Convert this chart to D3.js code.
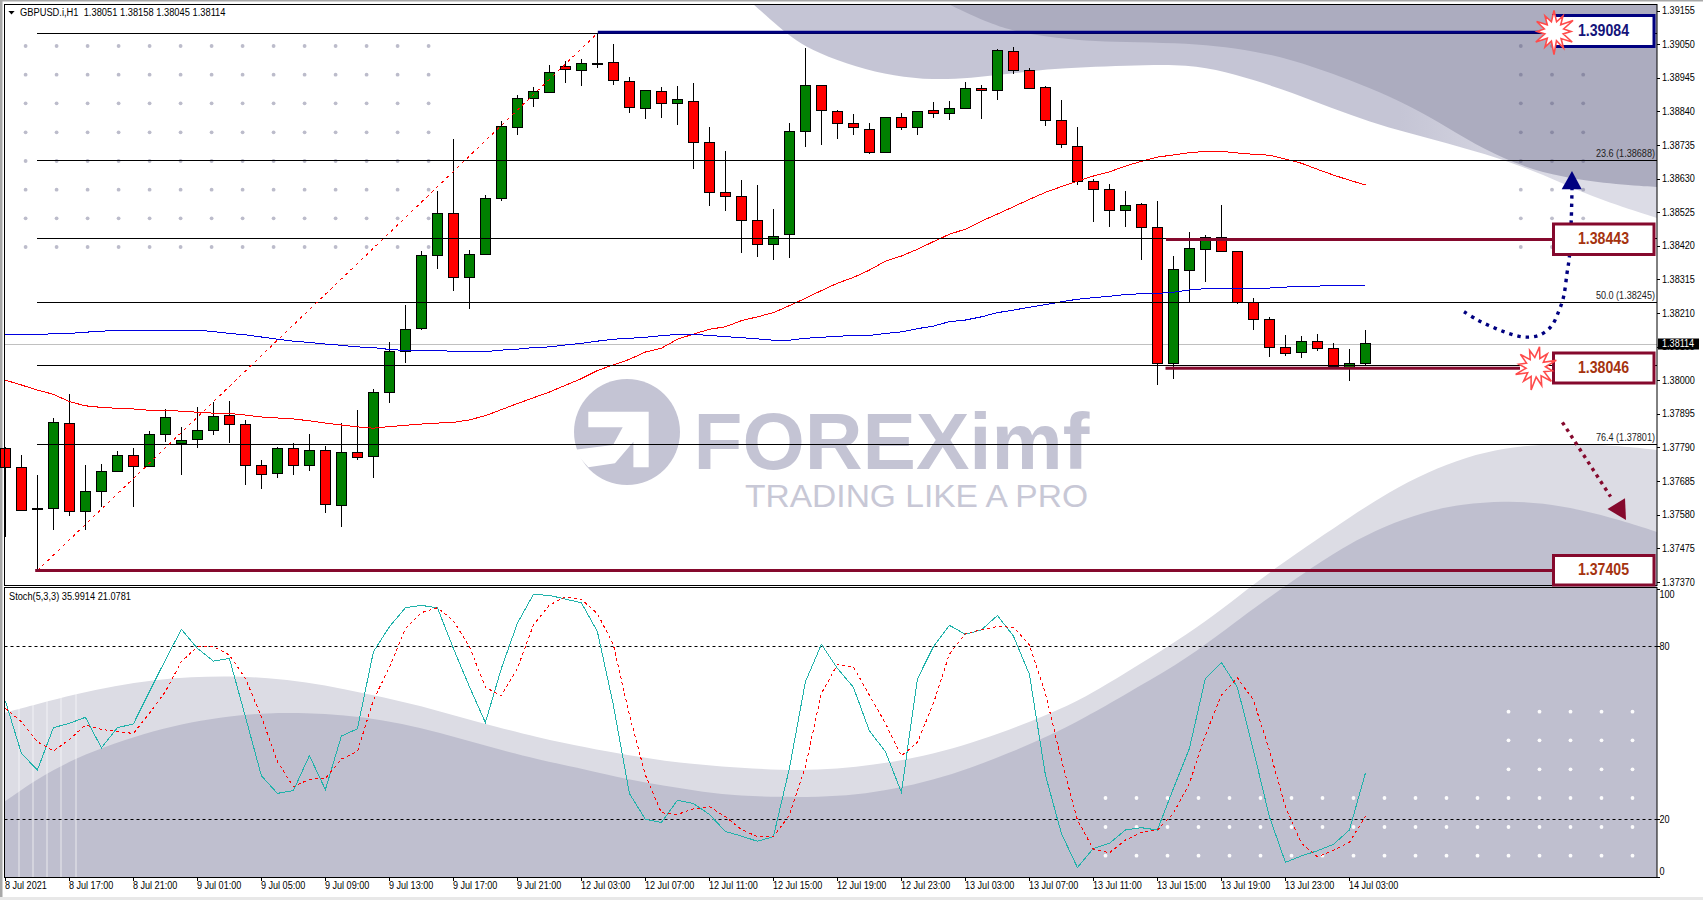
<!DOCTYPE html>
<html><head><meta charset="utf-8">
<script src="https://cdn.jsdelivr.net/npm/d3@7/dist/d3.min.js"></script>
<style>html,body{margin:0;padding:0;background:#fff;overflow:hidden}svg{display:block}text{font-family:"Liberation Sans",Arial,sans-serif}</style>
</head><body><svg id="c" width="1703" height="900"></svg>
<script>
const open=[1.37787,1.37728,1.37600,1.37598,1.37865,1.37589,1.37652,1.37714,1.37765,1.37730,
1.37830,1.37803,1.37814,1.37842,1.37890,1.37862,1.37734,1.37708,1.37787,1.37733,
1.37781,1.37608,1.37774,1.37761,1.37961,1.38089,1.38161,1.38389,1.38521,1.38321,
1.38392,1.38567,1.38789,1.38880,1.38900,1.38981,1.38967,1.38990,1.38993,1.38934,
1.38850,1.38903,1.38864,1.38871,1.38743,1.38587,1.38575,1.38500,1.38423,1.38455,
1.38776,1.38921,1.38840,1.38803,1.38784,1.38711,1.38821,1.38789,1.38843,1.38833,
1.38848,1.38912,1.38905,1.39028,1.38968,1.38915,1.38812,1.38731,1.38621,1.38596,
1.38530,1.38550,1.38478,1.38053,1.38342,1.38408,1.38446,1.38403,1.38243,1.38190,
1.38103,1.38086,1.38121,1.38100,1.38038,1.38051];
const high=[1.37792,1.37766,1.37704,1.37882,1.37956,1.37735,1.37738,1.37779,1.37787,1.37840,
1.37910,1.37854,1.37916,1.37933,1.37935,1.37875,1.37750,1.37791,1.37803,1.37832,
1.37794,1.37866,1.37907,1.37971,1.38119,1.38235,1.38403,1.38591,1.38753,1.38406,
1.38578,1.38809,1.38891,1.38915,1.38984,1.38996,1.39004,1.39084,1.39050,1.38946,
1.38906,1.38915,1.38919,1.38928,1.38791,1.38716,1.38626,1.38609,1.38534,1.38803,
1.39038,1.38921,1.38844,1.38831,1.38803,1.38821,1.38835,1.38840,1.38868,1.38872,
1.38931,1.38922,1.39034,1.39041,1.38975,1.38918,1.38875,1.38791,1.38629,1.38613,
1.38591,1.38554,1.38560,1.38387,1.38462,1.38453,1.38547,1.38403,1.38256,1.38196,
1.38141,1.38137,1.38144,1.38115,1.38097,1.38158];
const low=[1.37511,1.37590,1.37405,1.37532,1.37575,1.37532,1.37604,1.37714,1.37604,1.37730,
1.37807,1.37704,1.37788,1.37829,1.37803,1.37672,1.37660,1.37695,1.37704,1.37716,
1.37585,1.37541,1.37750,1.37694,1.37929,1.38054,1.38157,1.38348,1.38279,1.38223,
1.38392,1.38561,1.38766,1.38855,1.38900,1.38930,1.38919,1.38975,1.38923,1.38836,
1.38817,1.38820,1.38798,1.38661,1.38544,1.38529,1.38398,1.38386,1.38376,1.38383,
1.38730,1.38736,1.38755,1.38766,1.38708,1.38711,1.38783,1.38766,1.38820,1.38813,
1.38848,1.38816,1.38875,1.38957,1.38910,1.38794,1.38725,1.38610,1.38494,1.38479,
1.38479,1.38376,1.37986,1.38004,1.38240,1.38308,1.38401,1.38239,1.38157,1.38072,
1.38076,1.38069,1.38092,1.38038,1.37998,1.38045];
const close=[1.37726,1.37592,1.37596,1.37868,1.37589,1.37653,1.37715,1.37765,1.37730,1.37831,
1.37884,1.37812,1.37843,1.37887,1.37861,1.37733,1.37705,1.37787,1.37733,1.37781,
1.37611,1.37774,1.37758,1.37962,1.38090,1.38159,1.38390,1.38521,1.38321,1.38393,
1.38568,1.38793,1.38881,1.38903,1.38962,1.38971,1.38990,1.38990,1.38937,1.38851,
1.38906,1.38865,1.38878,1.38742,1.38586,1.38573,1.38498,1.38423,1.38450,1.38778,
1.38921,1.38842,1.38801,1.38789,1.38711,1.38821,1.38789,1.38840,1.38833,1.38850,
1.38912,1.38905,1.39031,1.38967,1.38913,1.38811,1.38736,1.38620,1.38595,1.38530,
1.38546,1.38476,1.38053,1.38346,1.38412,1.38446,1.38401,1.38243,1.38189,1.38101,
1.38083,1.38121,1.38098,1.38042,1.38053,1.38114];
const maRed=[1.38000,1.37985,1.37969,1.37956,1.37933,1.37920,1.37915,1.37912,1.37910,1.37906,
1.37906,1.37903,1.37900,1.37897,1.37896,1.37891,1.37885,1.37882,1.37879,1.37873,
1.37866,1.37860,1.37854,1.37850,1.37855,1.37859,1.37863,1.37866,1.37868,1.37876,
1.37889,1.37908,1.37927,1.37945,1.37963,1.37984,1.38005,1.38030,1.38048,1.38065,
1.38088,1.38100,1.38128,1.38144,1.38159,1.38167,1.38186,1.38198,1.38211,1.38233,
1.38256,1.38280,1.38303,1.38321,1.38344,1.38372,1.38388,1.38409,1.38433,1.38456,
1.38472,1.38497,1.38519,1.38542,1.38565,1.38587,1.38605,1.38622,1.38638,1.38651,
1.38669,1.38684,1.38697,1.38704,1.38711,1.38715,1.38715,1.38710,1.38706,1.38703,
1.38691,1.38678,1.38659,1.38641,1.38625,1.38610];
const maBlue=[1.38143,1.38143,1.38143,1.38145,1.38146,1.38150,1.38153,1.38156,1.38156,1.38156,
1.38156,1.38156,1.38156,1.38152,1.38146,1.38142,1.38135,1.38128,1.38122,1.38118,
1.38113,1.38109,1.38104,1.38102,1.38096,1.38093,1.38093,1.38093,1.38090,1.38089,
1.38089,1.38094,1.38097,1.38102,1.38104,1.38110,1.38115,1.38122,1.38128,1.38131,
1.38134,1.38139,1.38143,1.38143,1.38140,1.38136,1.38133,1.38129,1.38125,1.38125,
1.38131,1.38134,1.38137,1.38140,1.38140,1.38146,1.38151,1.38161,1.38169,1.38183,
1.38188,1.38198,1.38211,1.38219,1.38228,1.38236,1.38245,1.38253,1.38258,1.38262,
1.38268,1.38270,1.38271,1.38275,1.38282,1.38286,1.38286,1.38287,1.38287,1.38288,
1.38291,1.38293,1.38294,1.38296,1.38296,1.38296];
const stochMain=[61.0,42.9,37.1,51.8,53.3,55.4,44.8,51.8,53.1,64.3,
75.3,85.9,79.3,74.9,75.8,55.6,35.1,29.0,30.0,42.1,
30.3,48.9,51.4,78.1,86.8,93.4,94.2,93.4,79.3,66.0,
53.6,72.4,88.0,98.0,97.7,96.4,95.1,85.1,59.6,29.0,
20.0,18.9,26.6,25.5,21.7,15.8,14.2,12.4,14.0,37.7,
67.7,80.7,72.4,65.8,50.7,43.5,29.4,68.7,79.9,87.3,
84.2,85.7,90.7,83.6,70.3,35.4,15.1,3.3,9.9,11.7,
16.3,17.1,16.3,30.7,44.6,68.9,74.4,65.8,44.0,20.9,
5.1,7.3,9.1,11.3,16.3,35.99];
const stochSignal=[58.5,53.9,46.9,43.7,47.7,52.7,51.2,50.4,49.8,56.8,
64.3,74.7,79.9,79.9,77.0,68.9,55.6,40.0,31.3,33.9,
34.2,40.9,43.5,61.4,72.7,86.2,91.7,93.4,88.9,79.9,
65.8,62.9,72.4,87.4,94.3,97.2,96.3,91.4,80.5,56.2,
35.4,22.3,21.7,23.6,24.4,20.9,16.5,14.0,13.9,21.5,
38.3,63.7,73.7,72.9,63.1,53.3,42.0,46.7,60.2,77.3,
84.5,85.7,86.9,86.6,80.5,63.7,40.6,19.8,9.6,8.4,
12.8,15.5,16.3,22.1,32.5,49.2,63.1,69.1,61.4,44.0,
24.4,11.7,7.0,9.3,12.0,21.08];
const timeLabels=["8 Jul 2021","8 Jul 17:00","8 Jul 21:00","9 Jul 01:00","9 Jul 05:00","9 Jul 09:00","9 Jul 13:00","9 Jul 17:00","9 Jul 21:00","12 Jul 03:00","12 Jul 07:00","12 Jul 11:00","12 Jul 15:00","12 Jul 19:00","12 Jul 23:00","13 Jul 03:00","13 Jul 07:00","13 Jul 11:00","13 Jul 15:00","13 Jul 19:00","13 Jul 23:00","14 Jul 03:00"];
const priceTicks=[1.39155,1.39050,1.38945,1.38840,1.38735,1.38630,1.38525,1.38420,1.38315,1.38210,1.38105,1.38000,1.37895,1.37790,1.37685,1.37580,1.37475,1.37370];
const stochTicks=[100,80,20,0];
const stochLevels=[80,20];
const fibPrices=[1.39084,1.38688,1.38443,1.38245,1.38046,1.37801,1.37405];
const fibLabels=[[1.38688,"23.6 (1.38688)"],[1.38245,"50.0 (1.38245)"],[1.37801,"76.4 (1.37801)"]];
const levelLabels=["1.39084","1.38443","1.38046","1.37405"];
const levelLinePrices=[1.39087,1.38440,1.38037,1.37405];
const bidPrice=1.38114;
// watermark artwork, traced in page space
const waveTopLight=[[753,4],[780,28],[795,40],[818,53],[856,67],[894,76],[933,80],[971,78],[1009,74],[1047,69],[1086,67],[1124,66],[1177,64],[1216,69],[1254,80],[1293,93],[1331,108],[1370,122],[1408,133],[1447,143],[1485,154],[1524,167],[1562,183],[1601,200],[1657,218]];
const waveTopDark=[[948,4],[971,15],[990,23],[1009,30],[1047,37],[1086,41],[1124,42],[1177,43],[1216,46],[1254,51],[1293,60],[1331,73],[1370,88],[1408,105],[1447,127],[1485,150],[1524,167],[1562,177],[1601,183],[1657,187]];
const waveLowLight=[[4,713],[38,704],[76,694],[115,686],[153,680],[191,677],[230,676],[268,678],[306,682],[344,689],[383,697],[421,706],[459,717],[497,727],[536,737],[588,748],[626,755],[665,761],[703,765],[741,768],[780,770],[818,770],[856,767],[894,762],[933,754],[971,743],[1009,730],[1047,715],[1086,697],[1124,674],[1177,641],[1216,614],[1246,590],[1277,567],[1316,540],[1350,517],[1389,492],[1428,472],[1466,457],[1505,448],[1543,444],[1582,444],[1620,446],[1657,450]];
const waveLowDark=[[4,802],[38,778],[76,758],[115,743],[153,731],[191,722],[230,716],[268,713],[306,713],[344,715],[383,720],[421,728],[459,738],[497,749],[536,759],[588,770],[626,779],[665,786],[703,792],[741,796],[780,797],[818,797],[856,795],[894,789],[933,780],[971,768],[1009,753],[1047,737],[1086,717],[1124,695],[1177,665],[1216,637],[1254,608],[1308,570],[1347,545],[1385,526],[1424,512],[1462,504],[1505,501],[1543,503],[1582,510],[1620,520],[1657,532]];
const logoCut=[[588.3,411.7],[648.7,411.7],[648.7,467.3],[633.4,467.3],[633.4,441.7],[615,463.3],[588.3,467.3],[573,450],[613,445],[622.7,427.3],[588.3,427.3]];
const streaks=[[19,708],[33,703],[47,697],[61,692],[76,688]];
const blueArrowPath=[[1464,311.7],[1477.6,320],[1493,327.3],[1508.5,333.3],[1524,337],[1539,335.3],[1551,326.7],[1558.6,311.7],[1563.6,296.7],[1567,273.3],[1569.4,256.7],[1571.3,218.3],[1572,189]];
const blueArrowHead=[[1572,171],[1561.7,189.3],[1581.7,189.3]];
const redArrowPath=[[1562.4,422.3],[1610.6,496.7]];
const redArrowHead=[[1626,520],[1625,498.3],[1607.5,509]];
const burstRadii=[21,10,18,9.5,22,10,17,9.5,21,10,19,9.5,23,10,18,9.5,21,9.5,17,10,20,9.5,18,10];

const NAVY="#000080",MAROON="#85092d",GREEN="#008000",RED="#ff0000",TEXTS=0.91;
const L=4.5,R=1657,T=4.5,B=585.5,ST=587.5,SB=877.5;
const svg=d3.select("#c");
const x=d3.scaleLinear().domain([0,85]).range([5.4,1365.4]);
const y=d3.scaleLinear().domain([1.39084,1.37405]).range([33.3,570.6]);
const ys=d3.scaleLinear().domain([0,100]).range([877,588.7]);
const page=d3.line().curve(d3.curveBasis);
const straight=d3.line();

const defs=svg.append("defs");
defs.append("clipPath").attr("id","cl").append("rect").attr("x",L).attr("y",T).attr("width",R-L).attr("height",SB-T);
const g=defs.append("linearGradient").attr("id","tl").attr("gradientUnits","userSpaceOnUse").attr("x1",1400).attr("x2",1560).attr("y1",0).attr("y2",0);
g.append("stop").attr("offset",0).attr("stop-color","#c5c5d5");
g.append("stop").attr("offset",1).attr("stop-color","#dcdce6");

// window chrome
svg.append("rect").attr("width",1703).attr("height",900).attr("fill","#fff");
svg.append("rect").attr("width",1703).attr("height",1.5).attr("fill","#a8a8a8");
svg.append("rect").attr("width",2.5).attr("height",900).attr("fill","#a8a8a8");
svg.append("rect").attr("y",897).attr("width",1703).attr("height",3).attr("fill","#e8e8e8");

// watermark
const bg=svg.append("g").attr("clip-path","url(#cl)");
const closeTop=p=>page(p)+`L${R},${T}Z`;
const closeLow=p=>page(p)+`L${R},${SB}L${L},${SB}Z`;
bg.append("path").attr("d",closeTop(waveTopLight)).attr("fill","url(#tl)");
bg.append("path").attr("d",closeTop(waveTopDark)).attr("fill","#acacbf");
bg.append("path").attr("d",closeLow(waveLowLight)).attr("fill","#dcdce4");
bg.append("path").attr("d",closeLow(waveLowDark)).attr("fill","#bfbfcf");
bg.selectAll("line.s").data(streaks).join("line").attr("x1",d=>d[0]).attr("x2",d=>d[0]).attr("y1",d=>d[1]).attr("y2",SB).attr("stroke","#fff").attr("stroke-opacity",.5).attr("stroke-width",1.3);
const dotRows=[46,74.7,103.3,132.3,161,189.7,218.3,247];
bg.selectAll("circle.a").data(d3.cross(d3.range(14),dotRows)).join("circle").attr("cx",d=>25.6+31*d[0]).attr("cy",d=>d[1]).attr("r",1.9).attr("fill","#bcbccb");
bg.selectAll("circle.b").data(d3.cross(d3.range(3),dotRows)).join("circle").attr("cx",d=>1520.8+31.2*d[0]).attr("cy",d=>d[1]).attr("r",1.9).attr("fill","#55557a").attr("fill-opacity",.38);
const lowRows=[711.7,740.3,769.3,798,827,855.7];
bg.selectAll("circle.c").data(d3.cross(d3.range(18),lowRows).filter(d=>d[1]>790||d[0]>=13)).join("circle").attr("cx",d=>1105.5+31*d[0]).attr("cy",d=>d[1]).attr("r",1.9).attr("fill","#fff").attr("fill-opacity",.95);
// logo
svg.append("circle").attr("cx",627).attr("cy",432).attr("r",53).attr("fill","#c4c4d4");
svg.append("path").attr("d",straight(logoCut)+"Z").attr("fill","#fff");
svg.append("text").text("FOREXimf").attr("x",693.5).attr("y",468.5).attr("font-size",80).attr("font-weight",700).attr("fill","#c4c4d4").attr("textLength",396).attr("lengthAdjust","spacingAndGlyphs");
svg.append("text").text("TRADING LIKE A PRO").attr("x",745).attr("y",506.5).attr("font-size",32).attr("fill","#c8c8d6").attr("textLength",343).attr("lengthAdjust","spacingAndGlyphs");

// bid line
svg.append("line").attr("x1",L).attr("x2",R).attr("y1",Math.round(y(bidPrice))+.5).attr("y2",Math.round(y(bidPrice))+.5).attr("stroke","#c0c0c0");
// stochastic levels
svg.selectAll("line.lv").data(stochLevels).join("line").attr("x1",L).attr("x2",R).attr("y1",d=>Math.round(ys(d))+.5).attr("y2",d=>Math.round(ys(d))+.5).attr("stroke","#000").attr("stroke-dasharray","3,3");

// candles
const idx=d3.range(open.length);
const bw=10;
const candles=svg.append("g").attr("shape-rendering","crispEdges");
candles.selectAll("line").data(idx).join("line").attr("x1",i=>Math.round(x(i))+.5).attr("x2",i=>Math.round(x(i))+.5).attr("y1",i=>y(high[i])).attr("y2",i=>y(low[i])).attr("stroke","#000");
candles.selectAll("rect").data(idx).join("rect").attr("x",i=>Math.round(x(i))-bw/2+.5).attr("width",bw)
 .attr("y",i=>y(Math.max(open[i],close[i]))).attr("height",i=>Math.max(1,Math.abs(y(open[i])-y(close[i]))))
 .attr("fill",i=>close[i]>=open[i]?GREEN:RED).attr("stroke","#000");

// moving averages
const lineOf=(sc)=>d3.line().x((d,i)=>x(i)).y(d=>sc(d));
svg.append("path").attr("d",lineOf(y)(maRed)).attr("fill","none").attr("stroke","#ff0000").attr("shape-rendering","crispEdges");
svg.append("path").attr("d",lineOf(y)(maBlue)).attr("fill","none").attr("stroke","#0000e0").attr("shape-rendering","crispEdges");

// fibonacci
svg.selectAll("line.fib").data(fibPrices).join("line").attr("x1",37).attr("x2",(d,i)=>i==fibPrices.length-1?37:R).attr("y1",d=>Math.round(y(d))+.5).attr("y2",d=>Math.round(y(d))+.5).attr("stroke","#000").attr("stroke-width",1);
svg.append("line").attr("x1",x(2)).attr("y1",y(1.37405)).attr("x2",x(37)).attr("y2",y(1.39084)).attr("stroke","#ff0000").attr("stroke-dasharray","3,4").attr("shape-rendering","crispEdges");
svg.selectAll("text.fib").data(fibLabels).join("text").attr("class","fib").attr("text-anchor","end").attr("font-size",10).attr("fill","#222")
 .attr("transform",d=>`translate(${R-2},${y(d[0])-3}) scale(${TEXTS},1)`).text(d=>d[1]);

// level lines
const lv=[[597.8,1552],[1166,1552],[1165.5,1520],[35.2,1552]];
svg.selectAll("line.lvl").data(levelLinePrices).join("line").attr("x1",(d,i)=>lv[i][0]).attr("x2",(d,i)=>lv[i][1]).attr("y1",d=>y(d)).attr("y2",d=>y(d)).attr("stroke",(d,i)=>i==0?NAVY:MAROON).attr("stroke-width",3);

// stochastic
svg.append("path").attr("d",lineOf(ys)(stochMain)).attr("fill","none").attr("stroke","#20b2aa").attr("shape-rendering","crispEdges");
svg.append("path").attr("d",lineOf(ys)(stochSignal)).attr("fill","none").attr("stroke","#ff0000").attr("stroke-dasharray","3,3").attr("shape-rendering","crispEdges");

// frames
svg.append("rect").attr("x",L).attr("y",T).attr("width",R-L).attr("height",B-T).attr("fill","none").attr("stroke","#000");
svg.append("rect").attr("x",L).attr("y",ST).attr("width",R-L).attr("height",SB-ST).attr("fill","none").attr("stroke","#000");

// axes
const ax=svg.append("g").attr("transform",`translate(${R},0)`).call(d3.axisRight(y).tickValues(priceTicks).tickFormat(d3.format(".5f")).tickSize(3));
const as=svg.append("g").attr("transform",`translate(${R},0)`).call(d3.axisRight(ys).tickValues(stochTicks).tickSize(3));
const ab=svg.append("g").attr("transform",`translate(0,${SB})`).call(d3.axisBottom(x).tickValues(timeLabels.map((d,i)=>i*4)).tickFormat((d)=>timeLabels[d/4]).tickSize(3));
[ax,as,ab].forEach(a=>{a.select(".domain").remove();a.selectAll("line").attr("stroke","#000").attr("shape-rendering","crispEdges");a.selectAll("text").attr("font-family",'"Liberation Sans"').attr("font-size",10).attr("fill","#000").attr("transform",`scale(${TEXTS},1)`);});
ax.selectAll("text").attr("x",5/TEXTS);
as.selectAll("text").attr("x",2.5/TEXTS).attr("dy",d=>d==100?"0.9em":d==0?"-0.3em":"0.32em");
ab.selectAll("text").attr("text-anchor","start").attr("x",-1/TEXTS).attr("y",4).attr("dy","0.71em");

// labels
svg.append("path").attr("d",straight([[8.4,11],[14.6,11],[11.5,14.5]])+"Z").attr("fill","#000");
svg.append("text").attr("x",20).attr("y",16.3).attr("font-size",10).attr("fill","#000").style("white-space","pre").attr("textLength",205.5).attr("lengthAdjust","spacingAndGlyphs").text("GBPUSD.i,H1  1.38051 1.38158 1.38045 1.38114");
svg.append("text").attr("x",9).attr("y",600.3).attr("font-size",10).attr("fill","#000").attr("textLength",122).attr("lengthAdjust","spacingAndGlyphs").text("Stoch(5,3,3) 35.9914 21.0781");

// bid tag
svg.append("rect").attr("x",1658).attr("y",338.5).attr("width",41).attr("height",11).attr("fill","#000");
svg.append("text").attr("transform",`translate(1662,${y(bidPrice)+3.6}) scale(${TEXTS},1)`).attr("font-size",10).attr("fill","#fff").text(d3.format(".5f")(bidPrice));

// arrows (behind boxes)
svg.append("path").attr("d",d3.line().curve(d3.curveCatmullRom)(blueArrowPath)).attr("fill","none").attr("stroke",NAVY).attr("stroke-width",3.4).attr("stroke-dasharray","3.4,5");
svg.append("path").attr("d",straight(blueArrowHead)+"Z").attr("fill",NAVY);
svg.append("path").attr("d",straight(redArrowPath)).attr("fill","none").attr("stroke",MAROON).attr("stroke-width",3.4).attr("stroke-dasharray","3.4,4.4");
svg.append("path").attr("d",straight(redArrowHead)+"Z").attr("fill",MAROON);

// level boxes
const boxY=[[15.5,46.5],[224,254.5],[353,383],[555.5,585]];
const textY=[30,237.7,366.7,568.7];
boxY.forEach((b,i)=>{
 svg.append("rect").attr("x",1553.5).attr("y",b[0]).attr("width",100.5).attr("height",b[1]-b[0]).attr("fill","#fff").attr("stroke",i==0?NAVY:MAROON).attr("stroke-width",3);
 svg.append("text").attr("x",1603.5).attr("y",textY[i]+6).attr("text-anchor","middle").attr("font-size",16).attr("font-weight",700).attr("fill",i==0?"#14147a":"#a5330f").attr("textLength",51).attr("lengthAdjust","spacingAndGlyphs").text(levelLabels[i]);
});
// bursts
const radial=d3.lineRadial().curve(d3.curveLinearClosed).angle((d,i)=>i/burstRadii.length*2*Math.PI).radius(d=>d);
[[1554,31.5],[1535.5,367.5]].forEach((c,k)=>{
 svg.append("path").attr("transform",`translate(${c[0]},${c[1]}) rotate(${k*11})`).attr("d",radial(burstRadii)).attr("fill","#fff").attr("stroke","#ff4b4b").attr("stroke-width",1.6);
});
</script></body></html>
